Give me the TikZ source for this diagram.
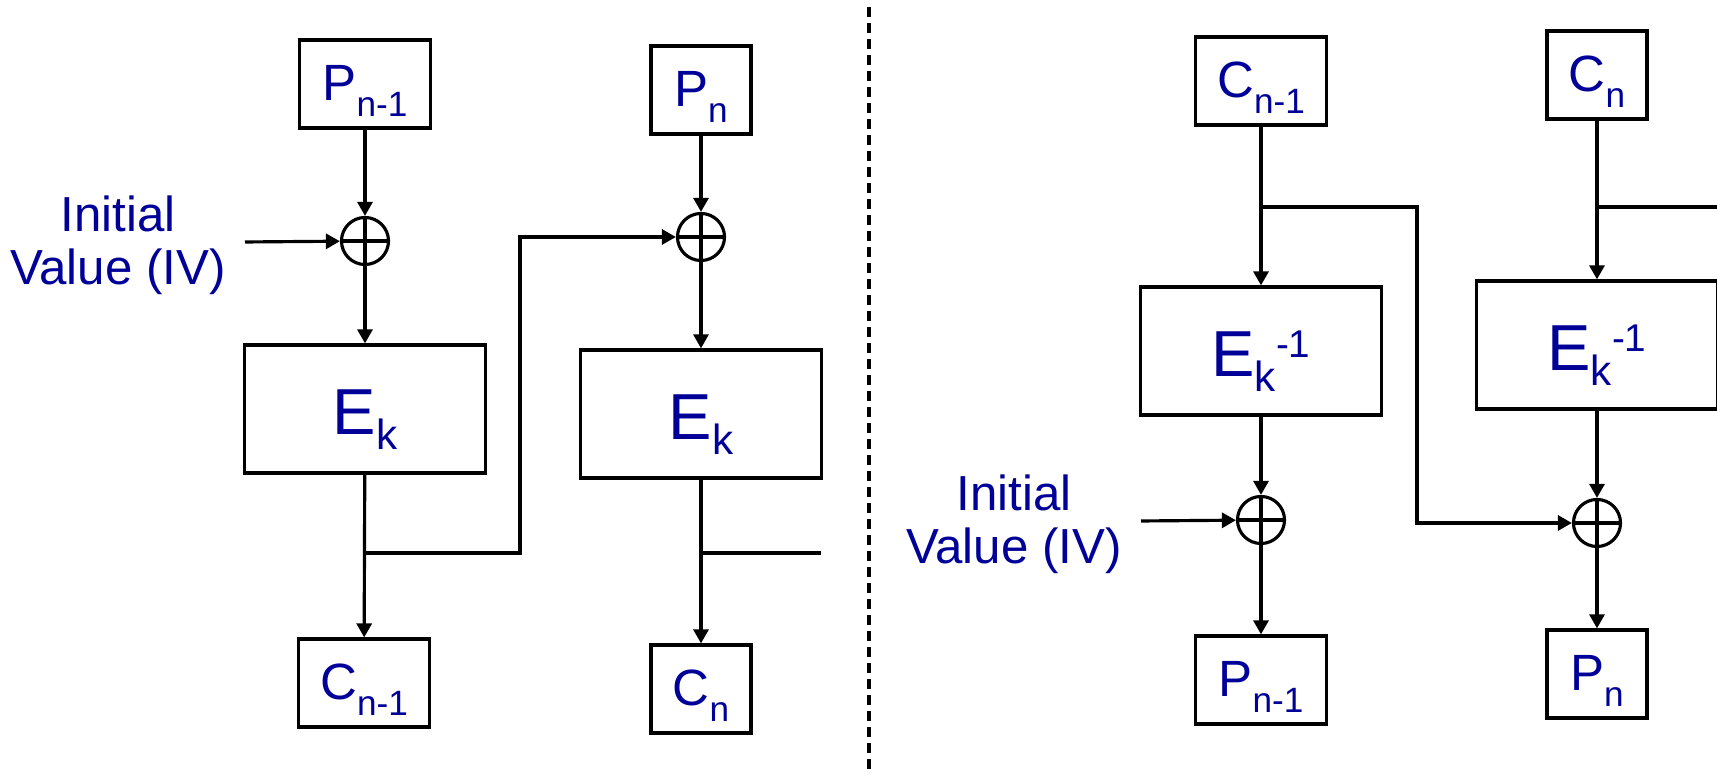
\documentclass[tikz,border=0pt]{standalone}
\usepackage{fontspec}
\setmainfont{Liberation Sans}
\usetikzlibrary{arrows.meta, positioning}
\definecolor{LabelBlue}{HTML}{000099}
\newcommand{\lowidx}[2][10]{\raisebox{-0.15cm}{\fontsize{#1}{#1}\selectfont #2}}
\newcommand{\highidx}[1]{\raisebox{0.19cm}{\fontsize{11}{11}\selectfont #1}}

\begin{document}
\begin{tikzpicture}[
    x=0.01cm, y=-0.01cm,
    >=Stealth,
    datawide/.style = {rectangle, draw, line width=0.9pt, minimum width=1.31cm, minimum height=0.88cm, inner sep=0pt, text height=0.49cm, text depth=0.15cm, font=\fontsize{14.5}{17}\selectfont, text=LabelBlue},
    datanarrow/.style = {datawide, minimum width=1.0cm},
    cipher/.style = {rectangle, draw, line width=0.9pt, minimum width=2.41cm, minimum height=1.28cm, inner sep=0pt, text height=0.66cm, text depth=0.15cm, font=\fontsize{18.5}{20}\selectfont, text=LabelBlue},
    xor/.style = {circle, draw, line width=0.9pt, minimum size=0.47cm, inner sep=0pt,
        path picture={\draw[line width=0.9pt] (path picture bounding box.north) -- (path picture bounding box.south) (path picture bounding box.west) -- (path picture bounding box.east);}},
    ivlabel/.style = {align=center, text=LabelBlue, font=\fontsize{14}{15.1}\selectfont, inner sep=0pt},
    connection/.style = {draw, -{Triangle[length=0.14cm, width=0.15cm]}, line width=0.9pt},
    link/.style = {draw, line width=0.9pt},
    divider/.style = {draw, line width=0.9pt, dash pattern=on 0.1cm off 0.06cm}
]
    \useasboundingbox (0,0) rectangle (1717,774);

    % encryption side
    \node [datawide] (pl1) at (365,84) {P\lowidx{n-1}};
    \node [xor] (xl1) at (365,241) {};
    \node [cipher] (el1) at (365,409) {E\lowidx[12]{k}};
    \node [datawide] (cl1) at (364,683) {C\lowidx{n-1}};
    \node [datanarrow] (pl2) at (701,90) {P\lowidx{n}};
    \node [xor] (xl2) at (701,237) {};
    \node [cipher] (el2) at (701,414) {E\lowidx[12]{k}};
    \node [datanarrow] (cl2) at (701,689) {C\lowidx{n}};
    \node [ivlabel] (ivtl) at (118,245) {Initial\\ Value (IV)};
    \coordinate (ivl) at (245,242);
    \coordinate (tl1) at (365,553);
    \coordinate (jl1) at (520,237);
    \coordinate (tl2) at (701,553);
    \coordinate (ol2) at (821,553);

    \draw [connection] (pl1) -- (xl1);
    \draw [connection] (ivl) -- (xl1);
    \draw [connection] (xl1) -- (el1);
    \draw [connection] (el1) -- (cl1);
    \draw [connection] (tl1) -| (jl1) -- (xl2);
    \draw [connection] (pl2) -- (xl2);
    \draw [connection] (xl2) -- (el2);
    \draw [connection] (el2) -- (cl2);
    \draw [link] (tl2) -- (ol2);

    % dividing line
    \coordinate (dtop) at (869,7);
    \coordinate (dbot) at (869,774);
    \draw [divider] (dtop) -- (dbot);

    % decryption side
    \node [datawide] (cr1) at (1261,81) {C\lowidx{n-1}};
    \node [cipher] (er1) at (1261,351) {E\lowidx[12]{k}\highidx{-1}};
    \node [xor] (xr1) at (1261,520) {};
    \node [datawide] (pr1) at (1261,680) {P\lowidx{n-1}};
    \node [datanarrow] (cr2) at (1597,75) {C\lowidx{n}};
    \node [cipher] (er2) at (1597,345) {E\lowidx[12]{k}\highidx{-1}};
    \node [xor] (xr2) at (1597,523) {};
    \node [datanarrow] (pr2) at (1597,674) {P\lowidx{n}};
    \node [ivlabel] (ivtr) at (1014,524) {Initial\\ Value (IV)};
    \coordinate (ivr) at (1141,521);
    \coordinate (tr1) at (1261,207);
    \coordinate (jr1) at (1417,523);
    \coordinate (tr2) at (1597,207);
    \coordinate (or2) at (1717,207);

    \draw [connection] (cr1) -- (er1);
    \draw [connection] (er1) -- (xr1);
    \draw [connection] (ivr) -- (xr1);
    \draw [connection] (xr1) -- (pr1);
    \draw [connection] (tr1) -| (jr1) -- (xr2);
    \draw [connection] (cr2) -- (er2);
    \draw [connection] (er2) -- (xr2);
    \draw [connection] (xr2) -- (pr2);
    \draw [link] (tr2) -- (or2);
\end{tikzpicture}
\end{document}
